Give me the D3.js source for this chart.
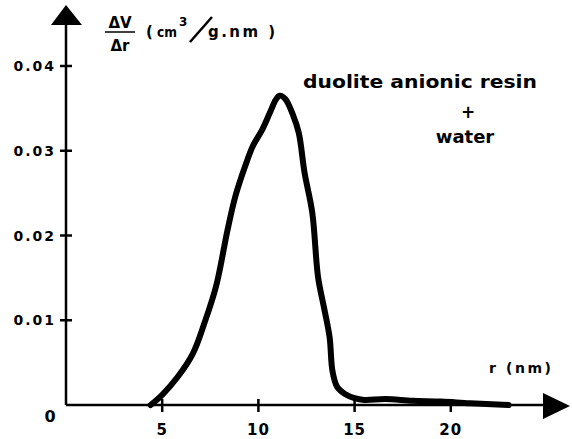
<html>
<head>
<script src="https://d3js.org/d3.v7.min.js"></script>
<style>
  body { margin: 0; background: white; }
  text { font-family: 'DejaVu Sans', Verdana, sans-serif; font-weight: bold; fill: black; }
</style>
</head>
<body>
<script>
// pore radius (nm) and dV/dr (cm3/g.nm)
var radius = [4.4, 5.0, 5.8, 6.6, 7.2, 7.8, 8.4, 8.8, 9.3, 9.7, 10.2, 10.6, 10.9, 11.1, 11.4,
              11.8, 12.1, 12.4, 12.8, 13.1, 13.4, 13.7, 13.85, 14.1, 14.5, 15.0, 15.5, 16.6,
              18.0, 19.5, 21.0, 23.0];
var dvdr = [0, 0.0012, 0.0033, 0.0061, 0.0097, 0.0140, 0.0207, 0.0246, 0.0281, 0.0305, 0.0325,
            0.0345, 0.0360, 0.0365, 0.0361, 0.0342, 0.0321, 0.0274, 0.0227, 0.0151, 0.0116,
            0.0080, 0.0040, 0.0021, 0.0013, 0.0008, 0.0006, 0.0007, 0.0005, 0.0004, 0.0002, 0];

var xTicks = [5, 10, 15, 20];
var yTicks = [0.01, 0.02, 0.03, 0.04];
var yTickLabels = ['0.01', '0.02', '0.03', '0.04'];

var width = 572, height = 439;

var x = d3.scaleLinear().domain([0, 25]).range([66, 547]);
var y = d3.scaleLinear().domain([0, 0.04]).range([405, 66]);

var svg = d3.select('body').append('svg')
    .attr('width', width)
    .attr('height', height);

// axes lines
svg.append('line')
    .attr('x1', x(0)).attr('y1', y(0))
    .attr('x2', 548).attr('y2', y(0))
    .attr('stroke', 'black').attr('stroke-width', 2.5);
svg.append('line')
    .attr('x1', x(0)).attr('y1', y(0))
    .attr('x2', x(0)).attr('y2', 22)
    .attr('stroke', 'black').attr('stroke-width', 2.5);

// arrow heads
svg.append('polygon')
    .attr('points', [[x(0), 5], [x(0) - 15, 25], [x(0) + 16, 25]].join(' '))
    .attr('fill', 'black');
svg.append('polygon')
    .attr('points', [[570, y(0) + 1], [543, y(0) - 12], [543, y(0) + 14]].join(' '))
    .attr('fill', 'black');

// tick crosses
svg.selectAll('.xtick').data(xTicks).enter().append('line')
    .attr('x1', function(d) { return x(d); }).attr('x2', function(d) { return x(d); })
    .attr('y1', y(0) - 6).attr('y2', y(0) + 7)
    .attr('stroke', 'black').attr('stroke-width', 2.5);
svg.selectAll('.ytick').data(yTicks).enter().append('line')
    .attr('x1', x(0) - 6).attr('x2', x(0) + 6)
    .attr('y1', function(d) { return y(d); }).attr('y2', function(d) { return y(d); })
    .attr('stroke', 'black').attr('stroke-width', 2.5);

// tick labels
svg.selectAll('.xlab').data(xTicks).enter().append('text')
    .attr('x', function(d) { return x(d); })
    .attr('y', 435)
    .attr('text-anchor', 'middle')
    .attr('font-size', 15)
    .attr('letter-spacing', 1)
    .text(function(d) { return d; });
svg.selectAll('.ylab').data(yTicks).enter().append('text')
    .attr('x', 56)
    .attr('y', function(d) { return y(d) + 5; })
    .attr('text-anchor', 'end')
    .attr('font-size', 14)
    .attr('letter-spacing', 2)
    .text(function(d, i) { return yTickLabels[i]; });
svg.append('text')
    .attr('x', 50).attr('y', 422)
    .attr('text-anchor', 'middle')
    .attr('font-size', 16)
    .text('0');

// axis titles
svg.append('text').attr('x', 120).attr('y', 28).attr('text-anchor', 'middle')
    .attr('font-size', 15).text('\u0394V');
svg.append('line').attr('x1', 105).attr('x2', 135).attr('y1', 32).attr('y2', 32)
    .attr('stroke', 'black').attr('stroke-width', 1.5);
svg.append('text').attr('x', 120).attr('y', 51).attr('text-anchor', 'middle')
    .attr('font-size', 15).text('\u0394r');

svg.append('text').attr('x', 146).attr('y', 37).attr('font-size', 15).text('(');
svg.append('text').attr('x', 157).attr('y', 37).attr('font-size', 14)
    .attr('textLength', 20).attr('lengthAdjust', 'spacingAndGlyphs').text('cm');
svg.append('text').attr('x', 179).attr('y', 26).attr('font-size', 12).text('3');
svg.append('line').attr('x1', 190).attr('y1', 42).attr('x2', 212).attr('y2', 17)
    .attr('stroke', 'black').attr('stroke-width', 2.5);
svg.append('text').attr('x', 208).attr('y', 37).attr('font-size', 15)
    .attr('textLength', 67).text('g.nm )');

svg.append('text').attr('x', 489).attr('y', 373).attr('font-size', 14)
    .attr('textLength', 62).text('r (nm)');

// annotation
svg.append('text').attr('x', 303).attr('y', 88).attr('font-size', 18)
    .attr('textLength', 234).attr('lengthAdjust', 'spacingAndGlyphs')
    .text('duolite anionic resin');
svg.append('text').attr('x', 468).attr('y', 118).attr('text-anchor', 'middle')
    .attr('font-size', 17).text('+');
svg.append('text').attr('x', 465).attr('y', 143).attr('text-anchor', 'middle')
    .attr('font-size', 18).text('water');

// the curve
var line = d3.line()
    .x(function(d) { return x(d[0]); })
    .y(function(d) { return y(d[1]); })
    .curve(d3.curveCatmullRom.alpha(0.5));

svg.append('path')
    .datum(d3.zip(radius, dvdr))
    .attr('d', line)
    .attr('fill', 'none')
    .attr('stroke', 'black')
    .attr('stroke-width', 6)
    .attr('stroke-linejoin', 'round')
    .attr('stroke-linecap', 'round');
</script>
</body>
</html>
